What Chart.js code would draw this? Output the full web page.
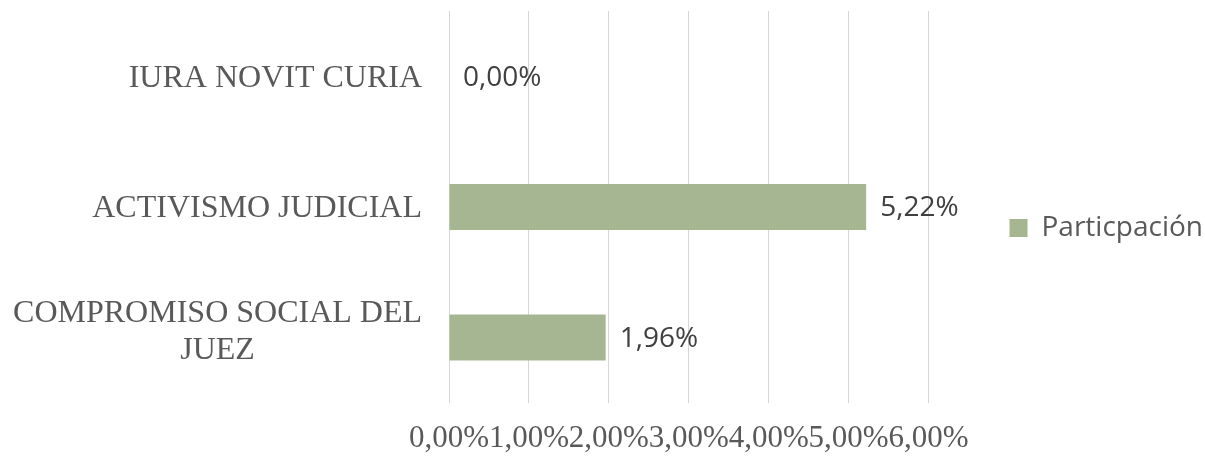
<!DOCTYPE html>
<html>
<head>
<meta charset="utf-8">
<script src="https://cdn.jsdelivr.net/npm/chart.js@4.4.0/dist/chart.umd.min.js"></script>
<style>
  html, body { margin: 0; padding: 0; background: #ffffff; }
  #wrap { width: 1205px; height: 457px; }
</style>
</head>
<body>
<div id="wrap"><canvas id="c" width="1205" height="457"></canvas></div>
<script>
// ---- data ----
const categories = [
  ['IURA NOVIT CURIA'],
  ['ACTIVISMO JUDICIAL'],
  ['COMPROMISO SOCIAL DEL', 'JUEZ']
];
const values = [0, 5.22, 1.96];
const seriesName = 'Particpación';
const xTickLabels = ['0,00%', '1,00%', '2,00%', '3,00%', '4,00%', '5,00%', '6,00%'];
const xMin = 0;
const xMax = 6;

// ---- styles ----
const BAR_COLOR = '#a6b592';
const GRID_COLOR = '#d6d6d6';
const AXIS_TEXT = '#595959';
const LABEL_TEXT = '#404040';
const SERIF = '"Liberation Serif", "Times New Roman", serif';
const SANS = '"Open Sans", "Liberation Sans", sans-serif';

function fmtPct(v) { return v.toFixed(2).replace('.', ',') + '%'; }

// y category labels (lines of a multi-line label centred on each other, block right-aligned)
const yLabelPlugin = {
  id: 'yLabels',
  afterDraw(chart) {
    const ys = chart.scales.y;
    const ctx = chart.ctx;
    ctx.save();
    ctx.font = '32px ' + SERIF;
    ctx.fillStyle = AXIS_TEXT;
    ctx.textAlign = 'center';
    ctx.textBaseline = 'middle';
    const right = chart.chartArea.left - 27;
    const lineH = 37;
    chart.data.labels.forEach((lines, i) => {
      const arr = Array.isArray(lines) ? lines : [lines];
      const w = Math.max(...arr.map(l => ctx.measureText(l).width));
      const cx = right - w / 2;
      const cy = ys.getPixelForTick(i);
      const n = arr.length;
      const off = n > 1 ? -5 : 2;
      arr.forEach((l, k) => {
        ctx.fillText(l, cx, cy + off + (k - (n - 1) / 2) * lineH);
      });
    });
    ctx.restore();
  }
};

// value labels at the end of each bar
const valueLabelPlugin = {
  id: 'valueLabels',
  afterDatasetsDraw(chart) {
    const ctx = chart.ctx;
    const meta = chart.getDatasetMeta(0);
    const data = chart.data.datasets[0].data;
    ctx.save();
    ctx.font = '28px ' + SANS;
    ctx.fillStyle = LABEL_TEXT;
    ctx.textAlign = 'left';
    ctx.textBaseline = 'middle';
    meta.data.forEach((bar, i) => {
      ctx.fillText(fmtPct(data[i]), bar.x + 14, bar.y + 1.5);
    });
    ctx.restore();
  }
};

new Chart(document.getElementById('c'), {
  type: 'bar',
  data: {
    labels: categories,
    datasets: [{
      label: seriesName,
      data: values,
      backgroundColor: BAR_COLOR,
      borderWidth: 0,
      categoryPercentage: 1.0,
      barPercentage: 0.352
    }]
  },
  options: {
    indexAxis: 'y',
    responsive: false,
    animation: false,
    devicePixelRatio: 1,
    layout: { padding: { top: -19, bottom: -18, left: 0, right: -8 } },
    scales: {
      x: {
        type: 'linear',
        min: xMin,
        max: xMax,
        grid: { color: GRID_COLOR, lineWidth: 1, drawTicks: false },
        border: { display: false },
        ticks: {
          stepSize: 1,
          autoSkip: false,
          maxRotation: 0,
          minRotation: 0,
          padding: 17.5,
          color: AXIS_TEXT,
          font: { family: SERIF, size: 31 },
          callback: (v, i) => xTickLabels[i]
        }
      },
      y: {
        type: 'category',
        grid: { display: false },
        border: { display: false },
        ticks: { display: false },
        afterFit: (s) => { s.width = 449; }
      }
    },
    plugins: {
      // empty spacer above the plot only (keeps the legend centred on the full height)
      title: {
        display: true,
        text: '',
        fullSize: false,
        padding: 0,
        font: { size: 10, lineHeight: '30px' }
      },
      legend: {
        position: 'right',
        labels: {
          boxWidth: 18,
          boxHeight: 18,
          padding: 81,
          color: AXIS_TEXT,
          font: { family: SANS, size: 28 }
        }
      },
      tooltip: { enabled: false }
    }
  },
  plugins: [yLabelPlugin, valueLabelPlugin]
});
</script>
</body>
</html>
